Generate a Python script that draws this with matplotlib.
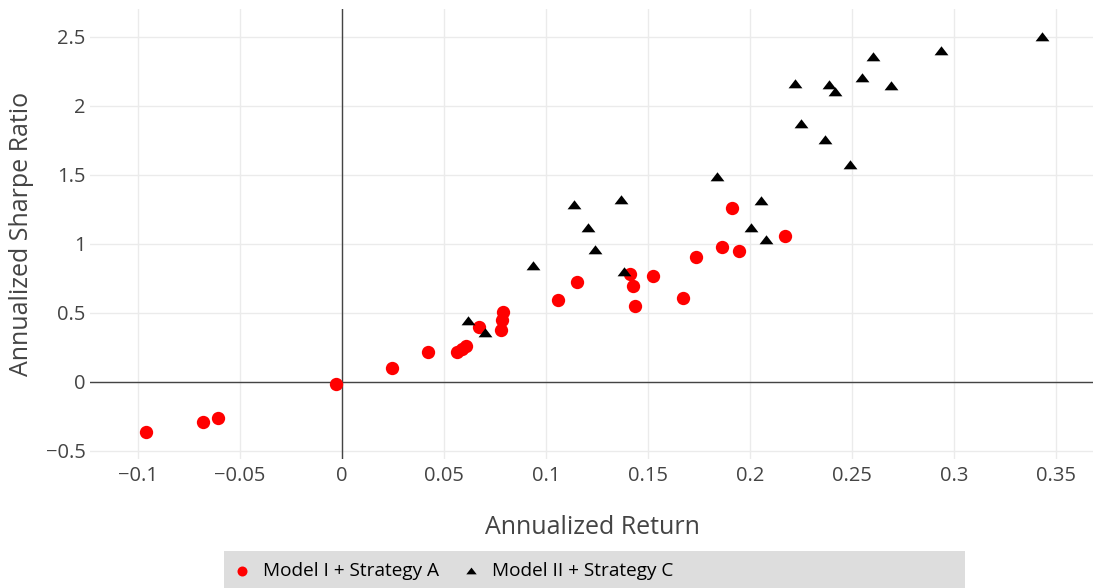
import matplotlib
matplotlib.use("Agg")
import matplotlib.pyplot as plt
from matplotlib.patches import Rectangle

plt.rcParams['font.family'] = ['Open Sans', 'DejaVu Sans']

### Data ###
# Model I + Strategy A (red circles)
ret_a = [-0.0958, -0.0678, -0.0604, -0.0030, 0.0246, 0.0424, 0.0565, 0.0589, 0.0610,
         0.0671, 0.0780, 0.0784, 0.0792, 0.1060, 0.1154, 0.1414, 0.1426, 0.1439,
         0.1524, 0.1674, 0.1733, 0.1864, 0.1947, 0.1914, 0.2169]
sharpe_a = [-0.361, -0.292, -0.263, -0.012, 0.099, 0.217, 0.215, 0.237, 0.261,
            0.396, 0.377, 0.449, 0.509, 0.596, 0.725, 0.785, 0.698, 0.548,
            0.768, 0.609, 0.906, 0.976, 0.949, 1.256, 1.053]

# Model II + Strategy C (black triangles)
ret_c = [0.0619, 0.0703, 0.0937, 0.1140, 0.1208, 0.1239, 0.1368, 0.1385, 0.1836,
         0.2056, 0.2004, 0.2076, 0.2218, 0.2251, 0.2367, 0.2489, 0.2388, 0.2414,
         0.2547, 0.2600, 0.2689, 0.2934, 0.3429]
sharpe_c = [0.442, 0.357, 0.841, 1.283, 1.118, 0.952, 1.317, 0.797, 1.486,
            1.307, 1.116, 1.029, 2.156, 1.866, 1.749, 1.568, 2.147, 2.097,
            2.201, 2.355, 2.145, 2.394, 2.498]

x_ticks = [-0.1, -0.05, 0, 0.05, 0.1, 0.15, 0.2, 0.25, 0.3, 0.35]
x_labels = ["\u22120.1", "\u22120.05", "0", "0.05", "0.1", "0.15", "0.2", "0.25", "0.3", "0.35"]
y_ticks = [-0.5, 0, 0.5, 1, 1.5, 2, 2.5]
y_labels = ["\u22120.5", "0", "0.5", "1", "1.5", "2", "2.5"]

label_a = "Model I + Strategy A"
label_c = "Model II + Strategy C"

W, H = 1093, 588
fig = plt.figure(figsize=(W / 100, H / 100), dpi=100)
ax = fig.add_axes([90 / W, 1 - 459 / H, 1 - 90 / W, (459 - 9) / H])

tri = [(-1, -0.55), (1, -0.55), (0, 0.75)]

ax.axhline(0, color="#444444", lw=1, zorder=1)
ax.axvline(0, color="#444444", lw=1, zorder=1)
sa = ax.scatter(ret_a, sharpe_a, s=92, c="#ff0000", marker="o", linewidths=0, zorder=3, label=label_a)
sc = ax.scatter(ret_c, sharpe_c, s=100, c="#000000", marker=tri, linewidths=0, zorder=3, label=label_c)

ax.set_xlim(-0.1233, 0.368)
ax.set_ylim(-0.558, 2.70)
ax.set_xticks(x_ticks)
ax.set_xticklabels(x_labels)
ax.set_yticks(y_ticks)
ax.set_yticklabels(y_labels)
ax.grid(True, color="#ebebeb", lw=1)
ax.set_axisbelow(True)
for s in ax.spines.values():
    s.set_visible(False)
ax.tick_params(length=0, labelsize=14.5, colors="#444444")
ax.tick_params(axis="x", pad=5)
ax.tick_params(axis="y", pad=3)

fig.text(592 / W, 1 - 528 / H, "Annualized Return", ha="center", va="center",
         fontsize=18, color="#444444")
fig.text(22 / W, 1 - 234 / H, "Annualized Sharpe Ratio", ha="center", va="center",
         rotation=90, fontsize=18, color="#444444")

# legend box
fig.patches.append(Rectangle((224 / W, 0), (965 - 224) / W, (588 - 551) / H,
                             transform=fig.transFigure, facecolor="#dddddd",
                             edgecolor="none", zorder=0))
fig.legend(handles=[sa, sc], labels=[label_a, label_c], ncol=2, frameon=False,
           loc="center left", bbox_to_anchor=(215 / W, 1 - 571 / H),
           fontsize=13.7, handlelength=1.0, handletextpad=0.6, columnspacing=1.2,
           markerscale=0.75, labelcolor="#000000")

fig.savefig("out.png", dpi=100)
